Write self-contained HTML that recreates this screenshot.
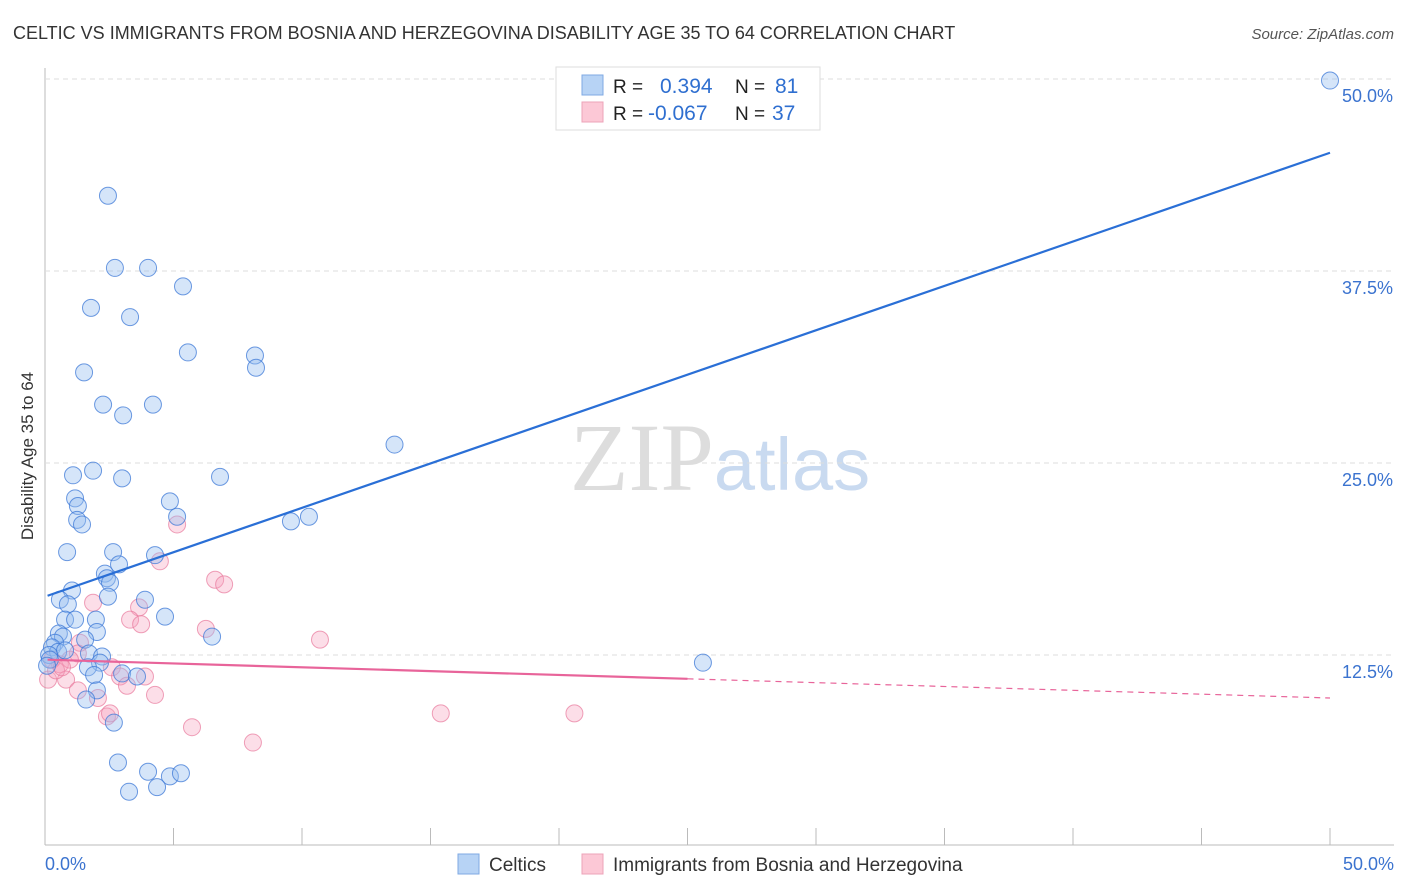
<!DOCTYPE html>
<html><head><meta charset="utf-8"><style>
body{margin:0;background:#fff;font-family:"Liberation Sans",sans-serif;}
svg{display:block}
</style></head><body>
<svg id="chart" width="1406" height="892" xmlns="http://www.w3.org/2000/svg">
<text x="13" y="39" font-size="18" fill="#333">CELTIC VS IMMIGRANTS FROM BOSNIA AND HERZEGOVINA DISABILITY AGE 35 TO 64 CORRELATION CHART</text>
<text x="1394" y="39" font-size="15" fill="#555" text-anchor="end" font-style="italic">Source: ZipAtlas.com</text>
<text transform="translate(33,456) rotate(-90)" font-size="17" fill="#333" text-anchor="middle">Disability Age 35 to 64</text>
<text x="720" y="490" font-size="96" text-anchor="middle" fill="#ddd" font-family="Liberation Serif,serif">ZIP<tspan fill="#c9daf0" font-family="Liberation Sans,sans-serif" font-size="74">atlas</tspan></text>
<g id="grid"></g><g id="pts"></g><g id="lines"></g>
<g>
<rect x="556" y="67" width="264" height="63" fill="#fff" stroke="#ddd"/>
<rect x="582" y="75" width="21" height="20" fill="#b7d3f5" stroke="#7fa9e3"/>
<rect x="582" y="102" width="21" height="20" fill="#fcc8d6" stroke="#eda3b8"/>
<text x="613" y="93" font-size="19" fill="#222">R =</text>
<text x="660" y="93" font-size="21" fill="#2f6fd0">0.394</text>
<text x="735" y="93" font-size="19" fill="#222">N =</text>
<text x="775" y="93" font-size="21" fill="#2f6fd0">81</text>
<text x="613" y="120" font-size="19" fill="#222">R =</text>
<text x="648" y="120" font-size="21" fill="#2f6fd0">-0.067</text>
<text x="735" y="120" font-size="19" fill="#222">N =</text>
<text x="772" y="120" font-size="21" fill="#2f6fd0">37</text>
</g>
<g>
<rect x="458" y="854" width="21" height="20" fill="#b7d3f5" stroke="#7fa9e3"/>
<text x="489" y="871" font-size="19" fill="#333">Celtics</text>
<rect x="582" y="854" width="21" height="20" fill="#fcc8d6" stroke="#eda3b8"/>
<text x="613" y="871" font-size="19" fill="#333">Immigrants from Bosnia and Herzegovina</text>
</g>
</svg>
<script>
const xTicks=[0,5,10,15,20,25,30,35,40,45,50];
const yTicks=[12.5,25,37.5,50];
const yTickLabels=["12.5%","25.0%","37.5%","50.0%"];
const celticsX=[2.45,2.72,4.01,5.37,1.79,3.31,5.56,8.17,8.21,1.52,2.26,4.20,3.04,13.6,1.09,1.87,3.0,6.81,1.17,1.28,4.86,5.14,10.27,9.57,1.25,1.44,0.86,2.65,4.28,2.88,2.33,2.41,2.53,1.05,2.45,3.89,0.58,0.89,0.78,1.17,1.98,4.67,2.02,1.56,0.54,0.70,6.5,0.39,0.27,0.51,0.78,0.16,0.19,1.71,2.22,2.14,1.67,25.6,1.91,3.0,3.58,2.02,1.6,2.68,2.84,4.01,4.86,5.29,4.36,3.27,50,0.08];
const celticsY=[42.4,37.7,37.7,36.5,35.1,34.5,32.2,32.0,31.2,30.9,28.8,28.8,28.1,26.2,24.2,24.5,24.0,24.1,22.7,22.2,22.5,21.5,21.5,21.2,21.3,21.0,19.2,19.2,19.0,18.4,17.8,17.5,17.2,16.7,16.3,16.1,16.1,15.8,14.8,14.8,14.8,15.0,14.0,13.5,13.9,13.7,13.7,13.3,13.0,12.7,12.8,12.5,12.2,12.6,12.4,12.0,11.7,12.0,11.2,11.3,11.1,10.2,9.6,8.1,5.5,4.9,4.6,4.8,3.9,3.6,49.9,11.8];
const bosniaX=[5.14,4.47,6.62,6.97,1.87,3.66,3.31,3.74,6.26,10.7,1.36,1.28,0.58,0.97,2.6,2.92,3.89,3.19,0.82,1.28,0.12,2.06,4.28,2.41,2.53,5.72,8.09,15.4,20.6,0.43,0.27,0.66];
const bosniaY=[21.0,18.6,17.4,17.1,15.9,15.6,14.8,14.5,14.2,13.5,13.3,12.6,11.9,12.2,11.7,11.1,11.1,10.5,10.9,10.2,10.9,9.7,9.9,8.5,8.7,7.8,6.8,8.7,8.7,11.5,12.2,11.7];
const celticsTrend=[16.3,45.2]; // y at x=0 and x=50
const bosniaTrend=[12.2,9.7];
const bosniaSolidEnd=25;
const X=v=>45+v/50*1285, Y=v=>847-v/12.5*192;
const NS="http://www.w3.org/2000/svg";
function mk(p,t,a){const e=document.createElementNS(NS,t);for(const k in a)e.setAttribute(k,a[k]);p.appendChild(e);return e;}
const grid=document.getElementById('grid');
mk(grid,'line',{x1:45,y1:68,x2:45,y2:845,stroke:'#bbb'});
mk(grid,'line',{x1:45,y1:845,x2:1394,y2:845,stroke:'#bbb'});
yTicks.forEach((t,i)=>{
 const l=mk(grid,'line',{x1:45,y1:Y(t),x2:1394,y2:Y(t),stroke:'#ddd','stroke-dasharray':'5,4'});
 
 const tx=mk(grid,'text',{x:1393,y:Y(t)+23,'font-size':18,fill:'#3b73cf','text-anchor':'end'});tx.textContent=yTickLabels[i];
 
});
xTicks.forEach(t=>{const l=mk(grid,'line',{x1:X(t),y1:828,x2:X(t),y2:845,stroke:'#bbb'});});
let a=mk(grid,'text',{x:45,y:870,'font-size':18,fill:'#3b73cf'});a.textContent='0.0%';
a=mk(grid,'text',{x:1394,y:870,'font-size':18,fill:'#3b73cf','text-anchor':'end'});a.textContent='50.0%';
const pts=document.getElementById('pts');
bosniaX.forEach((x,i)=>{const c=mk(pts,'circle',{cx:X(x),cy:Y(bosniaY[i]),r:8.5,fill:'rgba(247,160,188,0.35)',stroke:'rgba(232,120,155,0.7)','stroke-width':1});
 });
celticsX.forEach((x,i)=>{const c=mk(pts,'circle',{cx:X(x),cy:Y(celticsY[i]),r:8.5,fill:'rgba(150,190,240,0.4)',stroke:'rgba(60,120,215,0.75)','stroke-width':1});
 });
const ln=document.getElementById('lines');
let l=mk(ln,'line',{x1:X(0.1),y1:Y(celticsTrend[0]+(celticsTrend[1]-celticsTrend[0])*0.1/50),x2:X(50),y2:Y(celticsTrend[1]),stroke:'#2a6fd6','stroke-width':2.2});

const bAt=x=>bosniaTrend[0]+(bosniaTrend[1]-bosniaTrend[0])*x/50;
l=mk(ln,'line',{x1:X(0.1),y1:Y(bAt(0.1)),x2:X(bosniaSolidEnd),y2:Y(bAt(bosniaSolidEnd)),stroke:'#e8649a','stroke-width':2.2});

l=mk(ln,'line',{x1:X(bosniaSolidEnd),y1:Y(bAt(bosniaSolidEnd)),x2:X(50),y2:Y(bAt(50)),stroke:'#e8649a','stroke-width':1.2,'stroke-dasharray':'6,5'});

</script>
</body></html>
